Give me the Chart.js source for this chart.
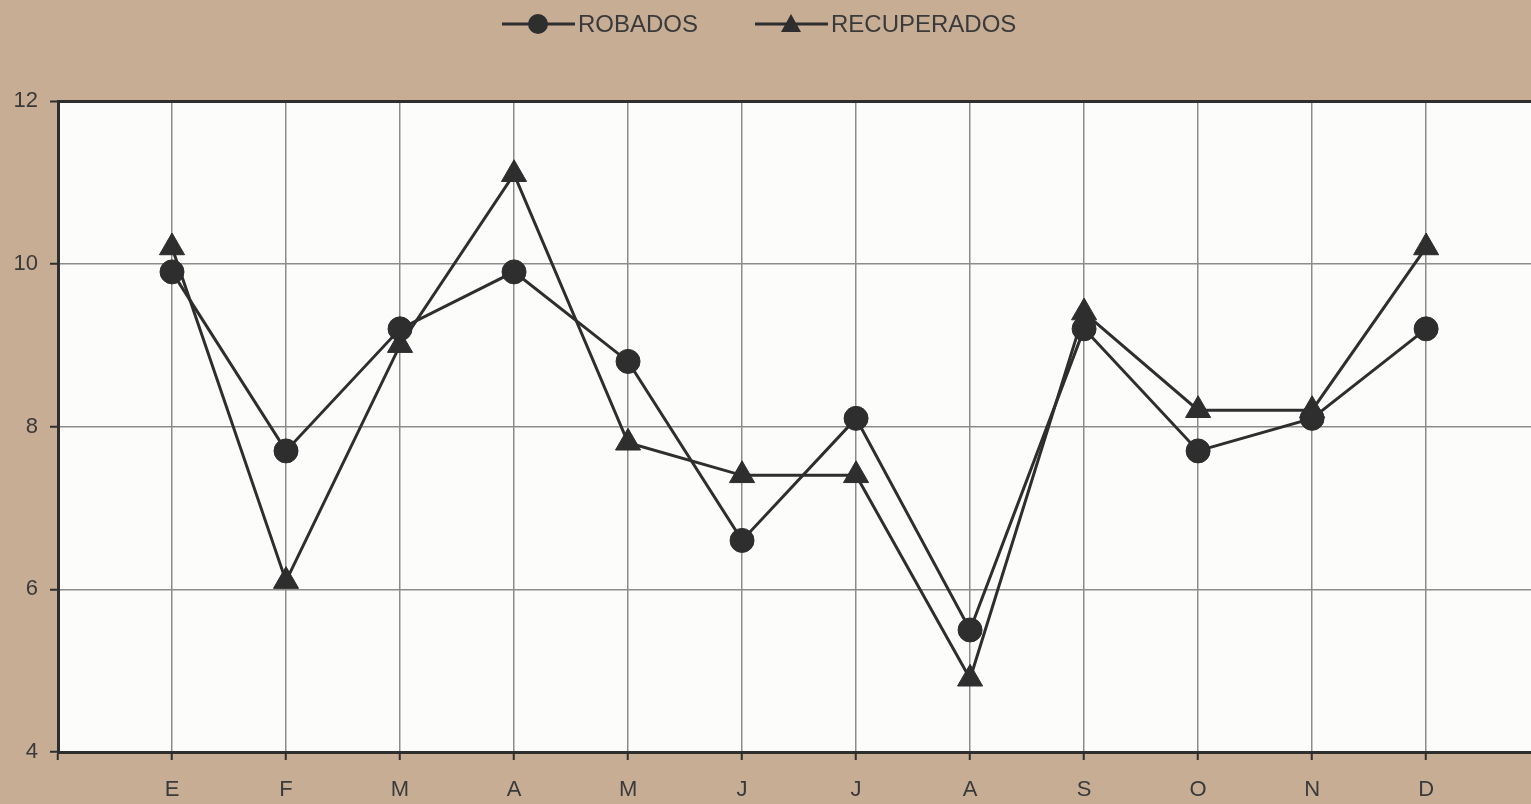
<!DOCTYPE html>
<html>
<head>
<meta charset="utf-8">
<script src="https://cdn.jsdelivr.net/npm/chart.js@4/dist/chart.umd.min.js"></script>
<style>
  html, body { margin: 0; padding: 0; background: #c6ad94; overflow: hidden; }
  #wrap { width: 1531px; height: 804px; }
</style>
</head>
<body>
<div id="wrap"><canvas id="robos" width="1531" height="804"></canvas></div>
<script>
// months (Spanish initials)
var months = ['E', 'F', 'M', 'A', 'M', 'J', 'J', 'A', 'S', 'O', 'N', 'D'];
var robados = [9.9, 7.7, 9.2, 9.9, 8.8, 6.6, 8.1, 5.5, 9.2, 7.7, 8.1, 9.2];
var recuperados = [10.2, 6.1, 9.0, 11.1, 7.8, 7.4, 7.4, 4.9, 9.4, 8.2, 8.2, 10.2];
var yTicks = [4, 6, 8, 10, 12];

var ink = '#2e2e2e';
var font = '"Liberation Sans", Arial, sans-serif';

function toPoints(values) {
    return values.map(function(v, i){ return {x: i + 1, y: v}; });
}

// white plot area
var plotBg = {
    id: 'plotBg',
    beforeDraw: function(chart){
        var a = chart.chartArea, ctx = chart.ctx;
        ctx.save();
        ctx.fillStyle = '#fcfcfb';
        ctx.fillRect(a.left, a.top, a.right - a.left, a.bottom - a.top);
        ctx.restore();
    }
};

// legend drawn as line + marker, like the printed one
var legendX = [502, 755];
var lineLegend = {
    id: 'lineLegend',
    afterDraw: function(chart){
        var ctx = chart.ctx, y = 24;
        chart.data.datasets.forEach(function(ds, i){
            var x0 = legendX[i], cx = x0 + 36;
            ctx.save();
            ctx.strokeStyle = ds.borderColor;
            ctx.fillStyle = ds.borderColor;
            ctx.lineWidth = 3;
            ctx.beginPath();
            ctx.moveTo(x0, y);
            ctx.lineTo(x0 + 73, y);
            ctx.stroke();
            ctx.beginPath();
            if (ds.pointStyle === 'triangle') {
                ctx.moveTo(cx, y - 10);
                ctx.lineTo(cx + 10, y + 8);
                ctx.lineTo(cx - 10, y + 8);
                ctx.closePath();
            } else {
                ctx.arc(cx, y, 10, 0, Math.PI * 2);
            }
            ctx.fill();
            ctx.font = '24px ' + font;
            ctx.fillStyle = '#3a3a3a';
            ctx.textBaseline = 'middle';
            ctx.fillText(ds.label, x0 + 76, y + 1);
            ctx.restore();
        });
    }
};

var ctx = document.getElementById('robos').getContext('2d');
var data = {
    datasets: [
        {
            label: 'ROBADOS',
            data: toPoints(robados),
            borderColor: ink,
            backgroundColor: ink,
            borderWidth: 3,
            pointStyle: 'circle',
            pointRadius: 12,
            pointBorderWidth: 1,
            tension: 0
        },
        {
            label: 'RECUPERADOS',
            data: toPoints(recuperados),
            borderColor: ink,
            backgroundColor: ink,
            borderWidth: 3,
            pointStyle: 'triangle',
            pointRadius: 14.5,
            pointBorderWidth: 1,
            tension: 0
        }
    ]
};

var options = {
    responsive: false,
    animation: false,
    layout: { autoPadding: false, padding: { top: 101, left: 0, right: 0, bottom: 0 } },
    plugins: {
        legend: { display: false },
        tooltip: { enabled: false }
    },
    scales: {
        x: {
            type: 'linear',
            min: 0,
            max: 12.92,
            afterFit: function(scale){ scale.height = 52; },
            ticks: {
                stepSize: 1,
                includeBounds: false,
                autoSkip: false,
                maxRotation: 0,
                padding: 17,
                color: '#3a3a3a',
                font: { family: font, size: 22 },
                callback: function(value){
                    return (value >= 1 && value <= months.length) ? months[value - 1] : '';
                }
            },
            grid: { color: '#8c8c8c', lineWidth: 1.5, tickLength: 8, tickColor: ink, tickWidth: 2 },
            border: { color: ink, width: 3 }
        },
        y: {
            min: 4,
            max: 12,
            afterFit: function(scale){ scale.width = 58; },
            afterBuildTicks: function(scale){
                scale.ticks = yTicks.map(function(v){ return {value: v}; });
            },
            ticks: {
                padding: 12,
                color: '#3a3a3a',
                font: { family: font, size: 22 }
            },
            grid: {
                color: function(c){ return c.tick && c.tick.value === 12 ? ink : '#8c8c8c'; },
                lineWidth: function(c){ return c.tick && c.tick.value === 12 ? 3 : 1.5; },
                tickLength: 8,
                tickColor: ink,
                tickWidth: 2
            },
            border: { color: ink, width: 3 }
        }
    }
};

var robosChart = new Chart(ctx, {
    type: 'line',
    data: data,
    options: options,
    plugins: [plotBg, lineLegend]
});
</script>
</body>
</html>
